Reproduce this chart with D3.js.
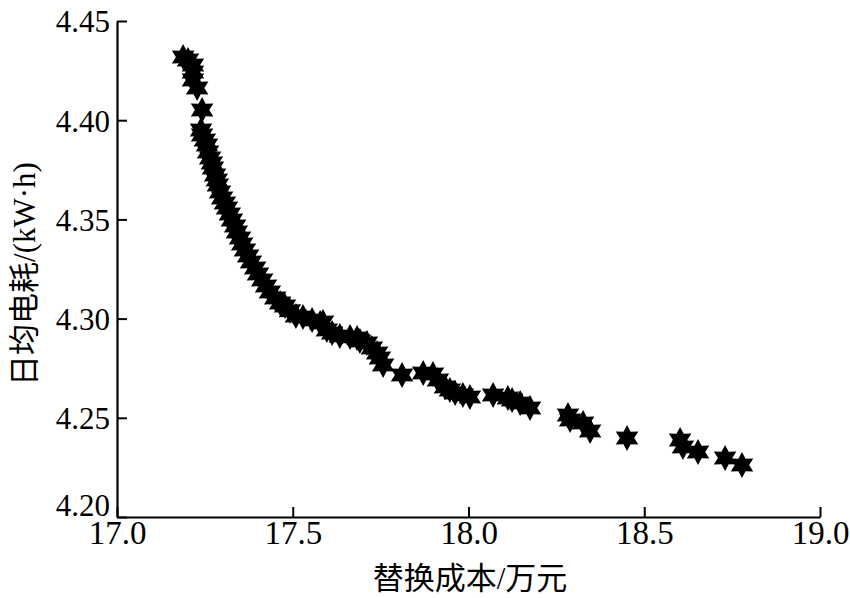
<!DOCTYPE html>
<html>
<head>
<meta charset="utf-8">
<script src="https://cdn.jsdelivr.net/npm/d3@7"></script>
<style>
  body { margin: 0; background: #fff; }
  .tick text { font-family: "Liberation Serif", "Times New Roman", serif; fill: #000; }
  .title { font-family: "Liberation Serif", "Noto Sans CJK SC", serif; fill: #000; }
</style>
</head>
<body>
<div id="chart"></div>
<script>
// replacement cost (10k yuan) and daily power use (kW·h)
var cost = [17.188, 17.202, 17.216, 17.216, 17.216, 17.228, 17.242, 17.239, 17.242, 17.250,
    17.256, 17.259, 17.265, 17.270, 17.273, 17.279, 17.284, 17.287, 17.293, 17.299,
    17.307, 17.313, 17.321, 17.327, 17.336, 17.341, 17.350, 17.356, 17.364, 17.373,
    17.381, 17.393, 17.401, 17.413, 17.424, 17.435, 17.450, 17.464, 17.478, 17.492,
    17.509, 17.529, 17.555, 17.578, 17.586, 17.597, 17.612, 17.634, 17.663, 17.683,
    17.691, 17.711, 17.725, 17.740, 17.748, 17.757, 17.811, 17.871, 17.899, 17.913,
    17.933, 17.947, 17.962, 17.984, 18.004, 18.070, 18.112, 18.124, 18.147, 18.175,
    18.283, 18.289, 18.326, 18.346, 18.451, 18.602, 18.610, 18.653, 18.730, 18.778];
var power = [4.4319, 4.4304, 4.4278, 4.4243, 4.4203, 4.4162, 4.4051, 4.3951, 4.3925, 4.3900,
    4.3875, 4.3840, 4.3809, 4.3784, 4.3759, 4.3724, 4.3699, 4.3673, 4.3638, 4.3608,
    4.3583, 4.3557, 4.3527, 4.3497, 4.3467, 4.3436, 4.3406, 4.3376, 4.3346, 4.3316,
    4.3285, 4.3255, 4.3225, 4.3195, 4.3164, 4.3134, 4.3104, 4.3079, 4.3063, 4.3040,
    4.3013, 4.3008, 4.2993, 4.2978, 4.2983, 4.2943, 4.2927, 4.2912, 4.2907, 4.2902,
    4.2887, 4.2877, 4.2852, 4.2827, 4.2801, 4.2766, 4.2716, 4.2726, 4.2721, 4.2691,
    4.2655, 4.2640, 4.2625, 4.2615, 4.2605, 4.2615, 4.2600, 4.2590, 4.2575, 4.2549,
    4.2514, 4.2489, 4.2474, 4.2433, 4.2398, 4.2388, 4.2353, 4.2328, 4.2297, 4.2262];
var xTicks = [17.0, 17.5, 18.0, 18.5, 19.0];
var yTicks = [4.20, 4.25, 4.30, 4.35, 4.40, 4.45];
var xTitle = "替换成本/万元";
var yTitle = "日均电耗/(kW·h)";

var data = cost.map(function(c, i) { return { x: c, y: power[i] }; });

var W = 850, H = 598;
var margin = { top: 21, right: 30, bottom: 81, left: 117 };
var width = W - margin.left - margin.right,
    height = H - margin.top - margin.bottom;

var svg = d3.select("#chart").append("svg")
    .attr("width", W)
    .attr("height", H)
    .append("g")
    .attr("transform", "translate(" + margin.left + "," + margin.top + ")");

var x = d3.scaleLinear().domain([17.0, 19.0]).range([0, 703]);
var y = d3.scaleLinear().domain([4.20, 4.45]).range([height, 0]);

// x axis, ticks pointing inward
var gx = svg.append("g")
    .attr("transform", "translate(0," + height + ")")
    .call(d3.axisBottom(x).tickValues(xTicks).tickFormat(d3.format(".1f"))
        .tickSizeInner(-10).tickSizeOuter(0).tickPadding(6));
gx.select(".domain").attr("stroke", "#000").attr("stroke-width", 2.2);
gx.selectAll(".tick line").attr("stroke", "#000").attr("stroke-width", 2);
gx.selectAll(".tick text").style("font-size", "33px").attr("dy", "0.68em").attr("y", 5);

// y axis, ticks pointing inward
var gy = svg.append("g")
    .call(d3.axisLeft(y).tickValues(yTicks).tickFormat(d3.format(".2f"))
        .tickSizeInner(-10).tickSizeOuter(0).tickPadding(7));
gy.select(".domain").attr("stroke", "#000").attr("stroke-width", 2.2);
gy.selectAll(".tick line").attr("stroke", "#000").attr("stroke-width", 2);
gy.selectAll(".tick text").style("font-size", "31px").attr("x", -7)
    .attr("dy", function(d) { return d === 4.20 ? "-0.05em" : "0.35em"; });

// six-pointed star marker
function hexagram(R, r) {
    var pts = [];
    for (var k = 0; k < 12; k++) {
        var a = -Math.PI / 2 + k * Math.PI / 6;
        var rad = k % 2 === 0 ? R : r;
        pts.push([rad * Math.cos(a), rad * Math.sin(a)]);
    }
    return "M" + pts.map(function(p) { return p[0].toFixed(2) + "," + p[1].toFixed(2); }).join("L") + "Z";
}
var star = hexagram(13, 7.2);

svg.append("g")
    .selectAll("path")
    .data(data)
    .enter()
    .append("path")
    .attr("d", star)
    .attr("transform", function(d) { return "translate(" + x(d.x) + "," + y(d.y) + ")"; })
    .attr("fill", "#000");

// axis titles
svg.append("text")
    .attr("class", "title")
    .attr("x", 353)
    .attr("y", height + 72)
    .attr("text-anchor", "middle")
    .style("font-size", "31px")
    .text(xTitle);

svg.append("text")
    .attr("class", "title")
    .attr("transform", "translate(" + (-82) + "," + (274 - margin.top) + ") rotate(-90)")
    .attr("text-anchor", "middle")
    .style("font-size", "31px")
    .text(yTitle);
</script>
</body>
</html>
